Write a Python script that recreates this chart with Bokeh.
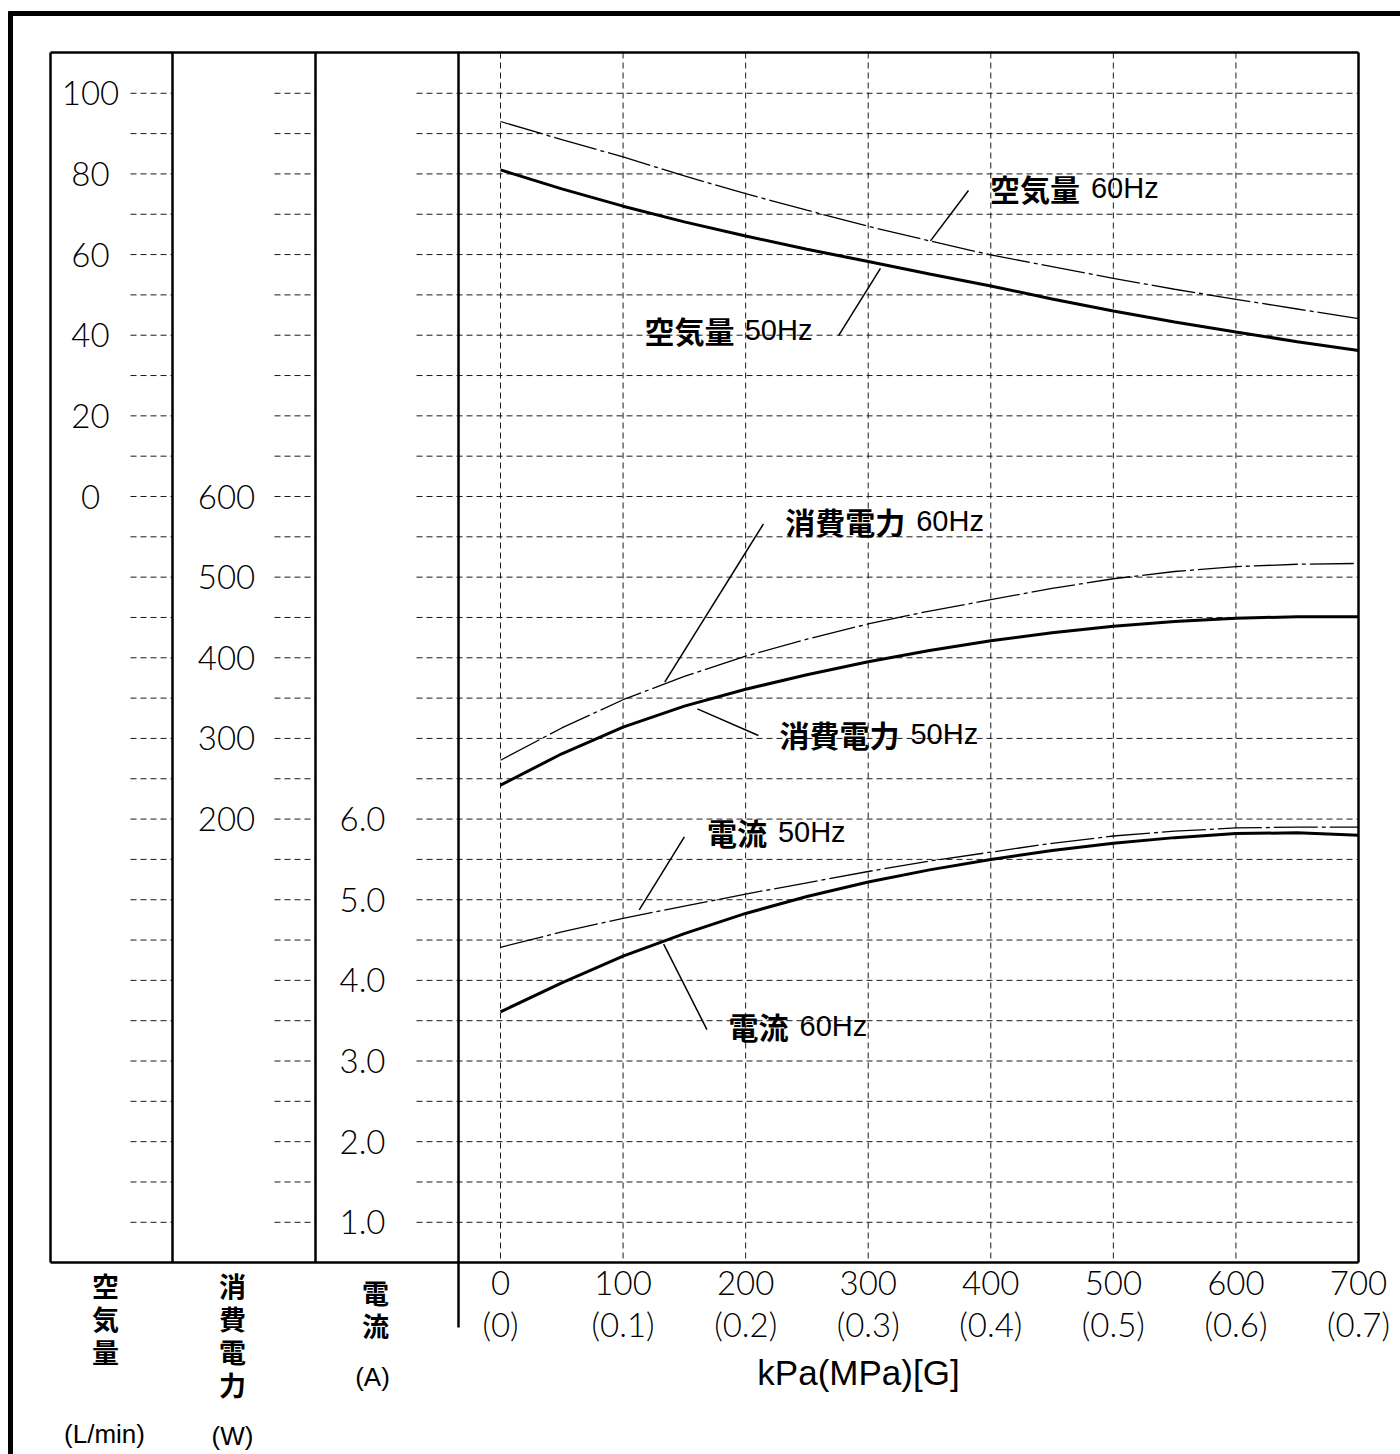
import numpy as np
from bokeh.plotting import figure
from bokeh.models import Range1d
from bokeh.core.properties import value
from bokeh.embed import file_html
from bokeh.resources import INLINE

# ---------------- data ----------------
pressure_kpa = [0, 50, 100, 150, 200, 250, 300, 350, 400, 450, 500, 550, 600, 650, 700]
air_50hz = [81.0, 76.3, 72.0, 68.1, 64.6, 61.3, 58.3, 55.2, 52.2, 49.0, 46.0, 43.3, 40.8, 38.4, 36.2]
air_60hz = [93.0, 88.5, 84.2, 79.5, 75.1, 71.0, 67.0, 63.4, 59.9, 57.0, 54.1, 51.4, 48.9, 46.5, 44.1]
power_50hz = [242, 281, 314, 340, 361, 379, 395, 409, 421, 431, 439, 445, 449, 451, 451]
power_60hz = [273, 313, 348, 377, 402, 423, 442, 458, 472, 486, 498, 507, 513, 516, 517]
current_50hz = [4.41, 4.60, 4.77, 4.92, 5.07, 5.21, 5.35, 5.48, 5.59, 5.70, 5.79, 5.85, 5.89, 5.90, 5.90]
current_60hz = [3.61, 3.97, 4.30, 4.58, 4.83, 5.04, 5.22, 5.37, 5.50, 5.61, 5.70, 5.77, 5.82, 5.83, 5.80]

x_ticks = [0, 100, 200, 300, 400, 500, 600, 700]
x_tick_labels = ["0", "100", "200", "300", "400", "500", "600", "700"]
x_tick_labels_mpa = ["(0)", "(0.1)", "(0.2)", "(0.3)", "(0.4)", "(0.5)", "(0.6)", "(0.7)"]
air_ticks = [100, 80, 60, 40, 20, 0]
power_ticks = [600, 500, 400, 300, 200]
current_ticks = [6.0, 5.0, 4.0, 3.0, 2.0, 1.0]
current_tick_labels = ["6.0", "5.0", "4.0", "3.0", "2.0", "1.0"]
column_titles = ["空気量", "消費電力", "電流"]
column_units = ["(L/min)", "(W)", "(A)"]

# ---------------- layout (page pixels -> data) ----------------
W, H = 1400, 1454
KPA_PX = (1358 - 500) / 700.0
AIR_PX = 80.645 / 20.0


def kx(px):
    return (px - 500) / KPA_PX


def ay(py):
    return (496 - py) / AIR_PX


def air_to_power(a):
    return 600 + a * 5.0


def air_to_current(a):
    return 6.0 + (a + 80) / 20.0


p = figure(width=W, height=H, output_backend="svg", toolbar_location=None,
           x_axis_type=None, y_axis_type=None, min_border=0,
           x_range=Range1d(kx(0), kx(W)), y_range=Range1d(ay(H), ay(0)))
p.outline_line_color = None
p.grid.visible = False
p.extra_y_ranges = {
    "power": Range1d(air_to_power(ay(H)), air_to_power(ay(0))),
    "current": Range1d(air_to_current(ay(H)), air_to_current(ay(0))),
}

BLACK = "#000000"
GRID = "#1a1a1a"

# outer thick border (top & left visible)
p.segment(x0=[kx(10), kx(8)], y0=[ay(11), ay(13)], x1=[kx(10), kx(W)], y1=[ay(H), ay(13)],
          line_color=BLACK, line_width=5)

# horizontal dashed grid
levels = np.arange(100, -181, -10)
for a, b in [(130, 172), (274, 315), (416, 1358)]:
    p.segment(x0=[kx(a)] * len(levels), y0=levels, x1=[kx(b)] * len(levels), y1=levels,
              line_color=GRID, line_width=1, line_dash="6 4")

# vertical dashed grid
vx = [t for t in x_ticks if t < 700]
p.segment(x0=vx, y0=[ay(52)] * len(vx), x1=vx, y1=[ay(1262)] * len(vx),
          line_color=GRID, line_width=1, line_dash="6 4")

# frame and column dividers
p.segment(x0=[kx(50), kx(50), kx(50), kx(1358), kx(172), kx(315), kx(458)],
          y0=[ay(52), ay(1262), ay(52), ay(52), ay(52), ay(52), ay(52)],
          x1=[kx(1358), kx(1358), kx(50), kx(1358), kx(172), kx(315), kx(458)],
          y1=[ay(52), ay(1262), ay(1262), ay(1262), ay(1262), ay(1262), ay(1327)],
          line_color=BLACK, line_width=2.5)

# ---------------- curves ----------------
DASHDOT = "44 4 4 4"
p.line(pressure_kpa, air_60hz, line_color=BLACK, line_width=1.3, line_dash=DASHDOT)
p.line(pressure_kpa, air_50hz, line_color=BLACK, line_width=3)
p.line(pressure_kpa, power_60hz, line_color=BLACK, line_width=1.3, line_dash=DASHDOT, y_range_name="power")
p.line(pressure_kpa, power_50hz, line_color=BLACK, line_width=3, y_range_name="power")
p.line(pressure_kpa, current_50hz, line_color=BLACK, line_width=1.3, line_dash=DASHDOT, y_range_name="current")
p.line(pressure_kpa, current_60hz, line_color=BLACK, line_width=3, y_range_name="current")

# ---------------- tick labels ----------------
TICK_FONT = value("Lato Light")
TS = "33px"
p.text(x=[kx(90)] * len(air_ticks), y=air_ticks, text=[str(t) for t in air_ticks],
       text_font=TICK_FONT, text_font_size=TS, text_align="center", text_baseline="middle", text_color=BLACK)
p.text(x=[kx(226)] * len(power_ticks), y=power_ticks, text=[str(t) for t in power_ticks],
       text_font=TICK_FONT, text_font_size=TS, text_align="center", text_baseline="middle",
       text_color=BLACK, y_range_name="power")
p.text(x=[kx(362)] * len(current_ticks), y=current_ticks, text=current_tick_labels,
       text_font=TICK_FONT, text_font_size=TS, text_align="center", text_baseline="middle",
       text_color=BLACK, y_range_name="current")
p.text(x=x_ticks, y=[ay(1282)] * len(x_ticks), text=x_tick_labels,
       text_font=TICK_FONT, text_font_size=TS, text_align="center", text_baseline="middle", text_color=BLACK)
p.text(x=x_ticks, y=[ay(1323)] * len(x_ticks), text=x_tick_labels_mpa,
       text_font=TICK_FONT, text_font_size=TS, text_align="center", text_baseline="middle", text_color=BLACK)
p.text(x=[kx(858)], y=[ay(1372)], text=["kPa(MPa)[G]"], text_font=value("Liberation Sans"),
       text_font_size="35px", text_align="center", text_baseline="middle", text_color=BLACK)

# column titles (vertical, one character per line)
CJK = value("Noto Sans CJK JP")
title_x = [105, 232, 375]
title_top = [1285, 1285, 1292]
cx, cy, ct = [], [], []
for title, xpx, top in zip(column_titles, title_x, title_top):
    for i, ch in enumerate(title):
        cx.append(kx(xpx))
        cy.append(ay(top + 33 * i))
        ct.append(ch)
p.text(x=cx, y=cy, text=ct, text_font=CJK, text_font_size="27px", text_font_style="bold",
       text_align="center", text_baseline="middle", text_color=BLACK)
p.text(x=[kx(104), kx(232), kx(372)], y=[ay(1433), ay(1435), ay(1376)], text=column_units,
       text_font=value("Liberation Sans"), text_font_size="26px", text_align="center",
       text_baseline="middle", text_color=BLACK)

# ---------------- annotations with leader lines ----------------
LAT = value("Liberation Sans")
ann = [
    # (range, leader start, leader end, text pos, cjk, latin, align)
    ("default", (350.8, 63.4), (381.8, 75.9), (399.3, 76.6), "空気量", "60Hz", "left"),
    ("default", (310.0, 56.6), (275.8, 39.9), (254.5, 41.2), "空気量", "50Hz", "right"),
    ("power", (134.0, 369.7), (214.5, 566.0), (232.3, 570.0), "消費電力", "60Hz", "left"),
    ("power", (160.6, 336.7), (210.4, 303.6), (227.6, 306.0), "消費電力", "50Hz", "left"),
    ("current", (113.2, 4.875), (150.0, 5.78), (168.4, 5.84), "電流", "50Hz", "left"),
    ("current", (133.1, 4.45), (168.4, 3.39), (186.1, 3.44), "電流", "60Hz", "left"),
]
CJK_SIZE = 30
GAP = 11
for rng, s, e, t, cjk, lat, align in ann:
    kw = {} if rng == "default" else {"y_range_name": rng}
    p.segment(x0=[s[0]], y0=[s[1]], x1=[e[0]], y1=[e[1]], line_color=BLACK, line_width=1.5, **kw)
    cjk_w = CJK_SIZE * len(cjk)
    if align == "left":
        p.text(x=[t[0]], y=[t[1]], text=[cjk], text_font=CJK, text_font_size=f"{CJK_SIZE}px",
               text_font_style="bold", text_align="left", text_baseline="middle", text_color=BLACK, **kw)
        p.text(x=[t[0]], y=[t[1]], text=[lat], x_offset=cjk_w + GAP, text_font=LAT, text_font_size="29px",
               text_align="left", text_baseline="middle", text_color=BLACK, **kw)
    else:
        p.text(x=[t[0]], y=[t[1]], text=[lat], text_font=LAT, text_font_size="29px",
               text_align="right", text_baseline="middle", text_color=BLACK, **kw)
        p.text(x=[t[0]], y=[t[1]], text=[cjk], x_offset=-(67 + GAP), text_font=CJK,
               text_font_size=f"{CJK_SIZE}px", text_font_style="bold", text_align="right",
               text_baseline="middle", text_color=BLACK, **kw)

open("out.html", "w").write(file_html(p, INLINE))
